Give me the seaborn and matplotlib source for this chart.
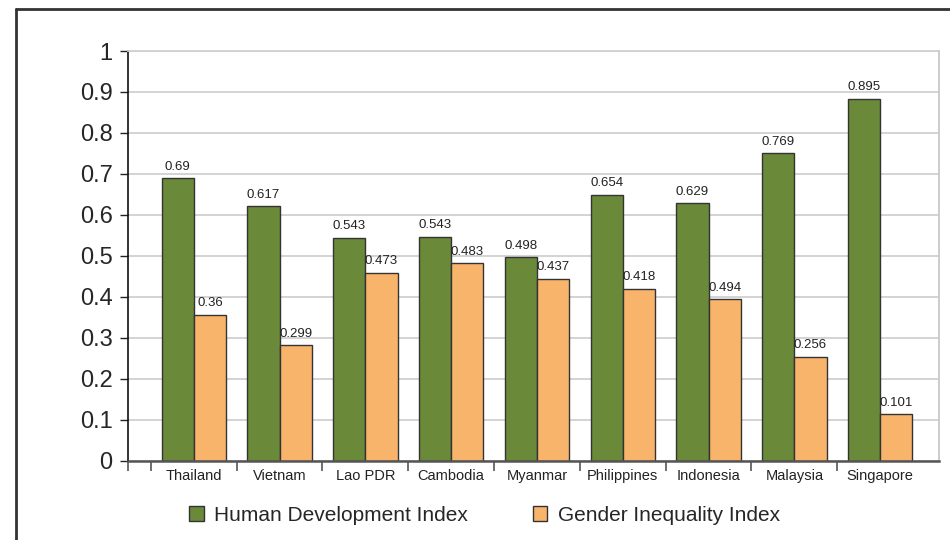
import numpy as np
import pandas as pd
import matplotlib
matplotlib.use("Agg")
import matplotlib.pyplot as plt
import seaborn as sns
from matplotlib.patches import Patch
from matplotlib.lines import Line2D

# values (bar heights) and the printed labels
countries = ['Thailand', 'Vietnam', 'Lao PDR', 'Cambodia', 'Myanmar',
             'Philippines', 'Indonesia', 'Malaysia', 'Singapore']
hdi = [0.689, 0.621, 0.544, 0.547, 0.496, 0.649, 0.628, 0.750, 0.883]
gii = [0.356, 0.282, 0.459, 0.482, 0.444, 0.419, 0.394, 0.254, 0.113]
hdi_labels = ['0.69', '0.617', '0.543', '0.543', '0.498', '0.654', '0.629', '0.769', '0.895']
gii_labels = ['0.36', '0.299', '0.473', '0.483', '0.437', '0.418', '0.494', '0.256', '0.101']
series = ['Human Development Index', 'Gender Inequality Index']
colors = ['#6a8a3a', '#f9b46b']

df = pd.DataFrame({
    'country': countries * 2,
    'index': [series[0]] * len(countries) + [series[1]] * len(countries),
    'value': hdi + gii,
})

sns.set_style('white')
plt.rcParams['font.family'] = ['Liberation Sans', 'DejaVu Sans']

fig = plt.figure(figsize=(9.5, 5.4), dpi=100)
ax = fig.add_axes([128 / 950, 79.3 / 540, (939 - 128) / 950, (460.7 - 51) / 540])

sns.barplot(data=df, x='country', y='value', hue='index', palette=colors,
            width=0.75, saturation=1, edgecolor='#333333', linewidth=1,
            legend=False, ax=ax)

for cont, labs in zip(ax.containers, [hdi_labels, gii_labels]):
    ax.bar_label(cont, labels=labs, padding=4, fontsize=9.5, color='#222222')

ax.set_ylim(0, 1)
ax.set_xlim(-0.767, 8.686)
ax.set_yticks(np.arange(0, 1.01, 0.1))
ax.set_yticklabels(['0', '0.1', '0.2', '0.3', '0.4', '0.5', '0.6', '0.7', '0.8', '0.9', '1'])
ax.yaxis.grid(True, color='#d0d0d0', linewidth=1.3)
ax.set_axisbelow(True)

# tick marks sit on the category boundaries, labels in the middle
bounds = [-0.767] + [i - 0.5 for i in range(len(countries))]
ax.set_xticks(bounds)
ax.set_xticklabels([''] * len(bounds))
ax.set_xticks(range(len(countries)), minor=True)
ax.set_xticklabels(countries, minor=True, fontsize=10.5, color='#222222')
ax.tick_params(axis='x', which='major', direction='out', length=7, width=1.2,
               color='#555555', bottom=True)
ax.tick_params(axis='x', which='minor', length=0, pad=6, bottom=True)
ax.tick_params(axis='y', direction='out', length=6, width=1, color='#222222',
               labelsize=17, pad=5, left=True)
ax.set_xlabel('')
ax.set_ylabel('')

ax.spines['left'].set_color('#111111')
ax.spines['left'].set_linewidth(1.2)
ax.spines['bottom'].set_color('#555555')
ax.spines['bottom'].set_linewidth(1.8)
ax.spines['right'].set_color('#c8c8c8')
ax.spines['right'].set_linewidth(1.3)
ax.spines['top'].set_color('#d0d0d0')
ax.spines['top'].set_linewidth(1.3)

handles = [Patch(facecolor=c, edgecolor='#333333', linewidth=1) for c in colors]
ax.legend(handles, series, loc='center', bbox_to_anchor=(0.51, 0.046),
          bbox_transform=fig.transFigure, ncol=2, frameon=False, fontsize=15,
          handlelength=0.7, handleheight=0.7, handletextpad=0.5, columnspacing=3.1)

# outer frame (cut off on the right and bottom)
fx, fy = 16 / 950, 1 - 9 / 540
fig.add_artist(Line2D([fx, fx], [0, fy], transform=fig.transFigure, color='#333333', linewidth=2))
fig.add_artist(Line2D([fx, 1], [fy, fy], transform=fig.transFigure, color='#333333', linewidth=2))

fig.savefig('out.png', dpi=100)
